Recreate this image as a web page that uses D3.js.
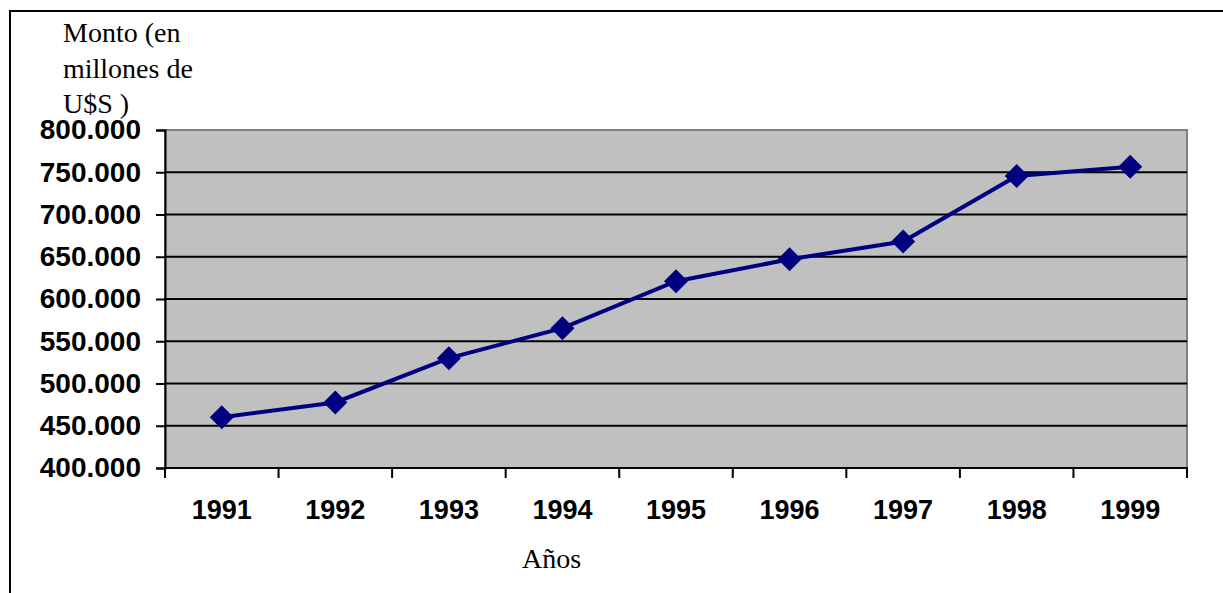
<!DOCTYPE html>
<html>
<head>
<meta charset="utf-8">
<script src="https://cdn.jsdelivr.net/npm/d3@7"></script>
<style>
  body { margin: 0; background: #fff; }
  svg { display: block; }
</style>
</head>
<body>
<div id="viz"></div>
<script>
var years = ['1991', '1992', '1993', '1994', '1995', '1996', '1997', '1998', '1999'];
var montos = [460000, 477600, 530000, 565500, 621000, 647000, 668000, 745500, 756500];
var yTicks = [400000, 450000, 500000, 550000, 600000, 650000, 700000, 750000, 800000];
var yTitle = ['Monto (en', 'millones de', 'U$S )'];
var xTitle = 'Años';

var width = 1223,
    height = 593,
    plotLeft = 165,
    plotRight = 1187,
    plotTop = 130,
    plotBottom = 468;

var svg = d3.select('#viz').append('svg')
  .attr('width', width)
  .attr('height', height);

// outer frame (only top and left edges show)
svg.append('path')
  .attr('d', 'M10,' + height + 'V11H' + width)
  .attr('fill', 'none')
  .attr('stroke', '#000')
  .attr('stroke-width', 2);

var xScale = d3.scaleBand()
  .domain(years)
  .range([plotLeft, plotRight]);

var yScale = d3.scaleLinear()
  .domain([400000, 800000])
  .range([plotBottom, plotTop]);

var fmt = function(d) {
  return d3.format(',')(d).replace(/,/g, '.');
};

// plot area
svg.append('rect')
  .attr('x', plotLeft)
  .attr('y', plotTop)
  .attr('width', plotRight - plotLeft)
  .attr('height', plotBottom - plotTop)
  .attr('fill', '#c0c0c0')
  .attr('stroke', '#808080')
  .attr('stroke-width', 2);

// gridlines
svg.append('g')
  .selectAll('line')
  .data(yTicks.filter(function(d) { return d > 400000 && d < 800000; }))
  .enter().append('line')
    .attr('x1', plotLeft)
    .attr('x2', plotRight)
    .attr('y1', function(d) { return yScale(d); })
    .attr('y2', function(d) { return yScale(d); })
    .attr('stroke', '#000')
    .attr('stroke-width', 2);

// y axis
var yAxis = svg.append('g')
  .attr('transform', 'translate(' + plotLeft + ',0)')
  .call(d3.axisLeft(yScale).tickValues(yTicks).tickFormat(fmt).tickSize(9).tickPadding(15));
yAxis.select('.domain').attr('stroke', '#000').attr('stroke-width', 2);
yAxis.selectAll('.tick line').attr('stroke', '#000').attr('stroke-width', 2);
yAxis.selectAll('.tick text')
  .attr('fill', '#000')
  .style('font-family', '"Liberation Sans", Arial, sans-serif')
  .style('font-weight', 'bold')
  .style('font-size', '28px');

// x axis: ticks between categories
var xAxisG = svg.append('g');
xAxisG.append('line')
  .attr('x1', plotLeft - 1)
  .attr('x2', plotRight + 1)
  .attr('y1', plotBottom)
  .attr('y2', plotBottom)
  .attr('stroke', '#000')
  .attr('stroke-width', 2);
xAxisG.selectAll('line.tk')
  .data(years.concat(['end']))
  .enter().append('line')
    .attr('class', 'tk')
    .attr('x1', function(d, i) { return i < years.length ? xScale(d) : xScale(years[years.length - 1]) + xScale.bandwidth(); })
    .attr('x2', function(d, i) { return i < years.length ? xScale(d) : xScale(years[years.length - 1]) + xScale.bandwidth(); })
    .attr('y1', plotBottom)
    .attr('y2', plotBottom + 10)
    .attr('stroke', '#000')
    .attr('stroke-width', 2);
xAxisG.selectAll('text')
  .data(years)
  .enter().append('text')
    .attr('x', function(d) { return xScale(d) + xScale.bandwidth() / 2; })
    .attr('y', 519)
    .attr('text-anchor', 'middle')
    .style('font-family', '"Liberation Sans", Arial, sans-serif')
    .style('font-weight', 'bold')
    .style('font-size', '27px')
    .text(function(d) { return d; });

// series line
var line = d3.line()
  .x(function(d, i) { return xScale(years[i]) + xScale.bandwidth() / 2; })
  .y(function(d) { return yScale(d); });

svg.append('path')
  .datum(montos)
  .attr('d', line)
  .attr('fill', 'none')
  .attr('stroke', '#000080')
  .attr('stroke-width', 4);

// diamond markers
svg.selectAll('path.mk')
  .data(montos)
  .enter().append('path')
    .attr('class', 'mk')
    .attr('d', 'M0,-12L12,0L0,12L-12,0Z')
    .attr('fill', '#000080')
    .attr('transform', function(d, i) {
      return 'translate(' + (xScale(years[i]) + xScale.bandwidth() / 2) + ',' + yScale(d) + ')';
    });

// axis titles
svg.append('text')
  .style('font-family', '"Liberation Serif", "Times New Roman", serif')
  .style('font-size', '28px')
  .selectAll('tspan')
  .data(yTitle)
  .enter().append('tspan')
    .attr('x', 63)
    .attr('y', function(d, i) { return 42 + i * 35.5; })
    .text(function(d) { return d; });

svg.append('text')
  .attr('x', 522)
  .attr('y', 568)
  .style('font-family', '"Liberation Serif", "Times New Roman", serif')
  .style('font-size', '28px')
  .text(xTitle);
</script>
</body>
</html>
